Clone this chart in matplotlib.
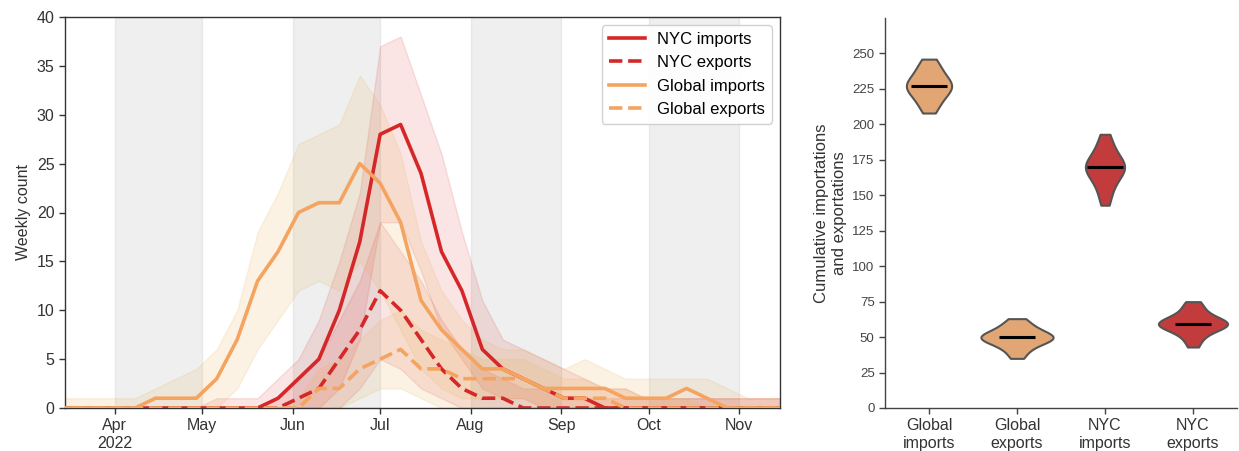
import numpy as np
import pandas as pd
import matplotlib
matplotlib.use("Agg")
import matplotlib.pyplot as plt

plt.rcParams['font.family'] = ['Liberation Sans', 'DejaVu Sans']

# ---------------- weekly series ----------------
week_start = "2022-03-11"
week_end = "2022-11-18"

nyc_imports = [0, 0, 0, 0, 0, 0, 0, 0, 0, 0, 0, 1, 3, 5, 10, 17, 28, 29, 24, 16, 12, 6, 4, 3, 2, 1, 1,
               0, 0, 0, 0, 0, 0, 0, 0, 0, 0]
nyc_imports_lo = [0, 0, 0, 0, 0, 0, 0, 0, 0, 0, 0, 0, 0, 0, 2, 7, 19, 19, 14, 8, 5, 2, 1, 1,
                  0, 0, 0, 0, 0, 0, 0, 0, 0, 0, 0, 0, 0]
nyc_imports_hi = [0, 0, 0, 0, 0, 0, 0, 0, 1, 1, 1, 3, 5, 9, 15, 22, 37, 38, 32, 26, 18, 11, 7, 6, 5, 4, 3, 2,
                  2, 1, 1, 1, 1, 1, 1, 1, 1]

nyc_exports = [0, 0, 0, 0, 0, 0, 0, 0, 0, 0, 0, 0, 1, 2, 5, 8, 12, 10, 7, 4, 2, 1, 1,
               0, 0, 0, 0, 0, 0, 0, 0, 0, 0, 0, 0, 0, 0]
nyc_exports_lo = [0, 0, 0, 0, 0, 0, 0, 0, 0, 0, 0, 0, 0, 0, 0, 2, 5, 4, 2, 1,
                  0, 0, 0, 0, 0, 0, 0, 0, 0, 0, 0, 0, 0, 0, 0, 0, 0]
nyc_exports_hi = [0, 0, 0, 0, 0, 0, 0, 0, 0, 0, 0, 1, 3, 5, 9, 13, 19, 16, 13, 9, 6, 4, 3, 2, 2, 1,
                  1, 1, 1, 1, 1, 1, 1, 1, 1, 1, 1]

global_imports = [0, 0, 0, 0, 0, 1, 1, 1, 3, 7, 13, 16, 20, 21, 21, 25, 23, 19, 11, 8, 6, 4, 4, 3, 2, 2, 2, 2,
                  1, 1, 1, 2, 1, 0, 0, 0, 0]
global_imports_lo = [0, 0, 0, 0, 0, 0, 0, 0, 0, 2, 6, 9, 12, 13, 12, 15, 12, 8, 4, 2, 1, 1, 1, 1,
                     0, 0, 0, 0, 0, 0, 0, 0, 0, 0, 0, 0, 0]
global_imports_hi = [1, 1, 1, 1, 1, 2, 3, 4, 6, 10, 18, 22, 27, 28, 29, 34, 31, 26, 17, 12, 9, 7, 6, 6, 5, 4, 5,
                     4, 3, 3, 3, 3, 3, 2, 1, 1, 1]

global_exports = [0, 0, 0, 0, 0, 0, 0, 0, 0, 0, 0, 0, 0, 2, 2, 4, 5, 6, 4, 4, 3, 3, 3, 3, 2, 1, 1, 1,
                  0, 0, 0, 0, 0, 0, 0, 0, 0]
global_exports_lo = [0, 0, 0, 0, 0, 0, 0, 0, 0, 0, 0, 0, 0, 0, 0, 1, 2, 2, 1,
                     0, 0, 0, 0, 0, 0, 0, 0, 0, 0, 0, 0, 0, 0, 0, 0, 0, 0]
global_exports_hi = [0, 0, 0, 0, 0, 0, 0, 0, 0, 0, 0, 0, 1, 4, 5, 7, 9, 10, 8, 7, 6, 5, 5, 5, 4, 3, 3, 2,
                     2, 1, 1, 1, 0, 0, 0, 0, 0]

month_ticks = ["2022-04-01", "2022-05-01", "2022-06-01", "2022-07-01",
               "2022-08-01", "2022-09-01", "2022-10-01", "2022-11-01"]
month_labels = ["Apr\n2022", "May", "Jun", "Jul", "Aug", "Sep", "Oct", "Nov"]
shaded_months = [("2022-04-01", "2022-05-01"), ("2022-06-01", "2022-07-01"),
                 ("2022-08-01", "2022-09-01"), ("2022-10-01", "2022-11-01")]

# ---------------- cumulative totals (simulation draws) ----------------
violin_labels = ["Global\nimports", "Global\nexports", "NYC\nimports", "NYC\nexports"]
cum_global_imports = [208, 212, 215, 218, 220, 222, 224, 226, 227, 227, 227, 229, 231, 233, 235, 237, 240, 243, 246]
cum_global_exports = [35, 39, 42, 44, 46, 47, 48, 49, 49, 50, 50, 51, 52, 53, 54, 56, 58, 60, 63]
cum_nyc_imports = [143, 149, 154, 158, 161, 164, 166, 168, 169, 170, 170, 171, 173, 175, 177, 180, 184, 188, 193]
cum_nyc_exports = [43, 48, 51, 54, 56, 57, 58, 59, 59, 59, 60, 60, 61, 62, 64, 66, 69, 72, 75]

NYC = "#d62728"
GLOBAL = "#f4a460"
NYC_BAND = "#d62728"
GLOBAL_BAND = "#e8b35c"
NYC_VIOLIN = "#c23b3d"
GLOBAL_VIOLIN = "#e1a673"
TXT = "#333333"

dates = pd.date_range(week_start, week_end, freq="7D")

fig = plt.figure(figsize=(12.39, 4.51), dpi=100)
ax = fig.add_axes([65 / 1239, 43 / 451, 715 / 1239, 391 / 451])
axv = fig.add_axes([885 / 1239, 43 / 451, 352 / 1239, 390 / 451])

# ---- left panel: weekly counts ----
for a, b in shaded_months:
    ax.axvspan(pd.Timestamp(a), pd.Timestamp(b), color="grey", alpha=0.12, zorder=0)

ax.fill_between(dates, nyc_imports_lo, nyc_imports_hi, color=NYC_BAND, alpha=0.12, zorder=1)
ax.fill_between(dates, nyc_exports_lo, nyc_exports_hi, color=NYC_BAND, alpha=0.12, zorder=1)
ax.fill_between(dates, global_imports_lo, global_imports_hi, color=GLOBAL_BAND, alpha=0.16, zorder=1)
ax.fill_between(dates, global_exports_lo, global_exports_hi, color=GLOBAL_BAND, alpha=0.16, zorder=1)

ax.plot(dates, nyc_imports, color=NYC, lw=2.6, label="NYC imports", zorder=3)
ax.plot(dates, nyc_exports, color=NYC, lw=2.6, ls="--", label="NYC exports", zorder=3)
ax.plot(dates, global_imports, color=GLOBAL, lw=2.6, label="Global imports", zorder=3)
ax.plot(dates, global_exports, color=GLOBAL, lw=2.6, ls="--", label="Global exports", zorder=3)

ax.set_xlim(pd.Timestamp("2022-03-15"), pd.Timestamp("2022-11-15"))
ax.set_ylim(0, 40)
ax.set_yticks(range(0, 41, 5))
ax.set_xticks([pd.Timestamp(t) for t in month_ticks])
ax.set_xticklabels(month_labels)
ax.set_ylabel("Weekly count", fontsize=11.5, color=TXT)
ax.tick_params(axis="both", direction="out", length=4, width=1, color=TXT,
               labelcolor=TXT, labelsize=11.5)
for s in ax.spines.values():
    s.set_color(TXT)
    s.set_linewidth(1)

leg = ax.legend(loc="upper right", fontsize=12, frameon=True, fancybox=True,
                handlelength=2.2, handletextpad=0.7, borderaxespad=0.5)
leg.get_frame().set_edgecolor("#cccccc")
leg.get_frame().set_alpha(0.9)

# ---- right panel: violins of cumulative totals ----
samples = [cum_global_imports, cum_global_exports, cum_nyc_imports, cum_nyc_exports]
fills = [GLOBAL_VIOLIN, GLOBAL_VIOLIN, NYC_VIOLIN, NYC_VIOLIN]


def kde(vals, grid):
    v = np.asarray(vals, dtype=float)
    bw = v.std(ddof=1) * len(v) ** (-1 / 5)
    z = (grid[:, None] - v[None, :]) / bw
    return np.exp(-0.5 * z ** 2).sum(axis=1) / (len(v) * bw * np.sqrt(2 * np.pi))


curves = []
for vals in samples:
    g = np.linspace(min(vals), max(vals), 300)
    curves.append((g, kde(vals, g)))
peak = max(d.max() for _, d in curves)
half_max = 0.41

for i, ((g, d), col, vals) in enumerate(zip(curves, fills, samples)):
    hw = d / peak * half_max
    axv.fill_betweenx(g, i - hw, i + hw, facecolor=col, edgecolor="#555555", lw=1.5, zorder=2)
    med = np.median(vals)
    axv.plot([i - 0.21, i + 0.21], [med, med], color="black", lw=2.2, zorder=3,
             solid_capstyle="butt")

axv.set_xlim(-0.5, 3.5)
axv.set_ylim(0, 275)
axv.set_yticks(range(0, 251, 25))
axv.set_xticks(range(4))
axv.set_xticklabels(violin_labels)
axv.set_ylabel("Cumulative importations\nand exportations", fontsize=12, color=TXT)
axv.tick_params(axis="y", direction="out", length=4, width=1, color="#444444",
                labelcolor="#444444", labelsize=9.5)
axv.tick_params(axis="x", direction="out", length=4, width=1, color="#444444",
                labelcolor=TXT, labelsize=11.5)
for side in ("top", "right"):
    axv.spines[side].set_visible(False)
for side in ("left", "bottom"):
    axv.spines[side].set_color("#444444")
    axv.spines[side].set_linewidth(1)

fig.savefig("out.png", dpi=100)
